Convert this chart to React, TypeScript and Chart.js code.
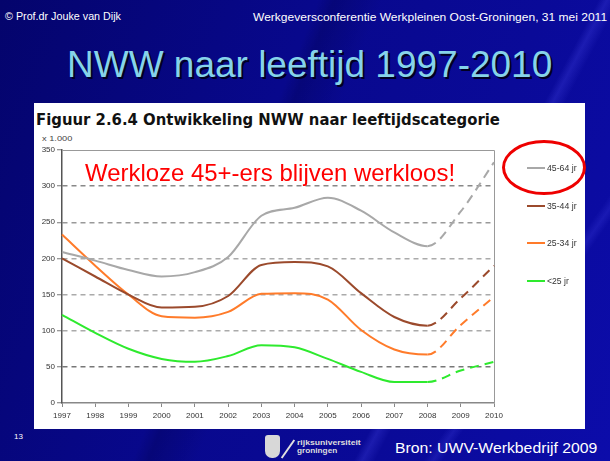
import React, { useEffect, useLayoutEffect, useRef } from "react";
import { Chart, registerables } from "chart.js";

Chart.register(...registerables);

// ---------- data ----------
const years = ["1997", "1998", "1999", "2000", "2001", "2002", "2003", "2004", "2005", "2006", "2007", "2008", "2009", "2010"];
const ageGroups = ["45-64 jr", "35-44 jr", "25-34 jr", "<25 jr"];
const age45to64 = [209, 197, 184, 175, 181, 202, 259, 270, 284, 266, 236, 217, 265, 333];
const age35to44 = [200, 175, 150, 132, 133, 148, 191, 195, 189, 152, 119, 107, 145, 190];
const age25to34 = [233, 190, 150, 120, 118, 126, 151, 152, 143, 101, 74, 67, 108, 147];
const ageUnder25 = [122, 97, 75, 61, 57, 65, 80, 77, 61, 43, 29, 29, 45, 57];
const forecastFrom = "2008";
const yTickValues = [0, 50, 100, 150, 200, 250, 300, 350];

// ---------- styles ----------
const seriesColors = ["#a8a8a8", "#9b4a2c", "#ff7b2a", "#2eea2e"];
const gridColors: Record<number, string> = { 50: "#777", 100: "#aaa", 150: "#aaa", 200: "#aaa", 250: "#999", 300: "#888" };

type FitProps = {
  text: string; left: number; cy: number; width?: number; size: number;
  color: string; weight?: string | number; family?: string; shadow?: string;
};

function FitText({ text, left, cy, width, size, color, weight, family, shadow }: FitProps) {
  const ref = useRef<HTMLSpanElement>(null);
  useLayoutEffect(() => {
    const el = ref.current;
    if (!el) return;
    const w = el.offsetWidth;
    const s = width && w ? width / w : 1;
    el.style.transform = `translateY(-50%) scaleX(${s})`;
  });
  return (
    <span
      ref={ref}
      style={{
        position: "absolute", left, top: cy, whiteSpace: "nowrap",
        fontSize: size, lineHeight: 1, color, fontWeight: weight || "normal",
        fontFamily: family || "'Liberation Sans', Arial, sans-serif",
        transformOrigin: "left center", transform: "translateY(-50%)",
        textShadow: shadow || "none",
      }}
    >
      {text}
    </span>
  );
}

function NwwChart() {
  const canvasRef = useRef<HTMLCanvasElement>(null);
  useEffect(() => {
    const dashFrom = years.indexOf(forecastFrom);
    const values = [age45to64, age35to44, age25to34, ageUnder25];
    const framePlugin = {
      id: "frame",
      beforeDatasetsDraw(chart: any) {
        const { ctx, chartArea: a } = chart;
        ctx.save();
        ctx.strokeStyle = "#999";
        ctx.lineWidth = 1;
        ctx.beginPath();
        ctx.moveTo(a.left, Math.round(a.top) + 0.5);
        ctx.lineTo(Math.round(a.right) + 0.5, Math.round(a.top) + 0.5);
        ctx.lineTo(Math.round(a.right) + 0.5, a.bottom);
        ctx.stroke();
        ctx.restore();
      },
    };
    const chart = new Chart(canvasRef.current as HTMLCanvasElement, {
      type: "line",
      data: {
        labels: years,
        datasets: ageGroups.map((g, i) => ({
          label: g,
          data: values[i],
          borderColor: seriesColors[i],
          backgroundColor: seriesColors[i],
          borderWidth: 2,
          pointRadius: 0,
          cubicInterpolationMode: "monotone" as const,
          fill: false,
          segment: {
            borderDash: (c: any) => (c.p0DataIndex >= dashFrom ? [9, 6] : undefined),
          },
        })),
      },
      options: {
        responsive: false,
        animation: false,
        devicePixelRatio: 1,
        layout: { padding: { top: 20, right: 92, left: 0, bottom: 0 } },
        plugins: { legend: { display: false }, tooltip: { enabled: false } },
        scales: {
          x: {
            type: "category",
            offset: false,
            grid: { drawOnChartArea: false, drawTicks: true, tickLength: 4, tickColor: "#888", color: "#888" },
            border: { color: "#888", width: 1.5 },
            ticks: {
              font: { family: "'Liberation Sans', Arial, sans-serif", size: 8 },
              color: "#333", padding: 4, maxRotation: 0, autoSkip: false,
            },
            afterFit: (s: any) => { s.height = 27; s.paddingLeft = 0; s.paddingRight = 0; },
          },
          y: {
            min: 0,
            max: 350,
            afterBuildTicks: (s: any) => { s.ticks = yTickValues.map((v) => ({ value: v })); },
            ticks: {
              font: { family: "'Liberation Sans', Arial, sans-serif", size: 8 },
              color: "#333", padding: 2,
            },
            grid: {
              color: (c: any) => gridColors[c.tick?.value] || "transparent",
              lineWidth: 1.5,
              tickLength: 5,
              tickColor: "#777",
              tickWidth: 1,
            },
            border: { color: "#555", width: 1.5, dash: [5, 4] },
            afterFit: (s: any) => { s.width = 28; s.paddingTop = 0; s.paddingBottom = 0; },
          },
        },
      },
      plugins: [framePlugin],
    } as any);
    return () => chart.destroy();
  }, []);
  return (
    <canvas
      ref={canvasRef}
      width={552}
      height={300}
      style={{ position: "absolute", left: 34, top: 130, width: 552, height: 300 }}
    />
  );
}

export default function App() {
  const legendY = [168, 206, 243, 281];
  return (
    <div
      style={{
        position: "fixed", left: 0, top: 0, width: 610, height: 461, overflow: "hidden",
        background:
          "linear-gradient(118deg, transparent 70%, rgba(90,90,255,0.22) 71%, transparent 72.5%)," +
          "linear-gradient(125deg, transparent 80%, rgba(90,90,255,0.18) 81%, transparent 82%)," +
          "linear-gradient(112deg, transparent 40%, rgba(0,0,60,0.25) 42%, transparent 48%)," +
          "linear-gradient(110deg, #04046c 0%, #08088c 40%, #0a0a98 70%, #0c0caa 100%)",
      }}
    >
      <FitText text="© Prof.dr Jouke van Dijk" left={5} cy={17} width={116} size={10} color="#fff" />
      <FitText text="Werkgeversconferentie Werkpleinen Oost-Groningen, 31 mei 2011" left={253} cy={17} width={354} size={11} color="#fff" />
      <FitText text="NWW naar leeftijd 1997-2010" left={67} cy={65} width={485} size={36} color="#86d3ea" shadow="2px 2px 0 #000022" />

      <div style={{ position: "absolute", left: 34, top: 103, width: 551, height: 326, background: "#fff" }} />
      <FitText text="Figuur 2.6.4 Ontwikkeling NWW naar leeftijdscategorie" left={36} cy={120} width={464} size={15} color="#111" weight="bold" family="'DejaVu Sans', Verdana, sans-serif" />
      <FitText text="x 1.000" left={42} cy={139} width={30} size={8} color="#444" />

      <NwwChart />

      <FitText text="Werkloze 45+-ers blijven werkloos!" left={85} cy={173} width={370} size={24} color="#f00" />

      {ageGroups.map((g, i) => (
        <React.Fragment key={g}>
          <div style={{ position: "absolute", left: 527, top: legendY[i] - 1, width: 18, height: 2, background: seriesColors[i] }} />
          <FitText text={g} left={547} cy={legendY[i]} width={i === 3 ? 22 : 30} size={9} color="#333" />
        </React.Fragment>
      ))}
      <div
        style={{
          position: "absolute", left: 502, top: 140, width: 84, height: 55, boxSizing: "border-box",
          border: "3.5px solid #ee0000", borderRadius: "50%",
        }}
      />

      <FitText text="13" left={14} cy={437} size={8} color="#fff" />
      <div style={{ position: "absolute", left: 265, top: 435, width: 15, height: 23, background: "#d8d8d8", borderRadius: "3px 3px 7px 7px" }} />
      <div style={{ position: "absolute", left: 287, top: 438, width: 2, height: 22, background: "#e0e0e0", transform: "rotate(35deg)" }} />
      <FitText text="rijksuniversiteit" left={297} cy={442} width={64} size={7} color="#ddd" weight="bold" />
      <FitText text="groningen" left={297} cy={450} width={40} size={7} color="#ddd" weight="bold" />
      <FitText text="Bron: UWV-Werkbedrijf 2009" left={395} cy={447} width={202} size={15} color="#fff" />
    </div>
  );
}
